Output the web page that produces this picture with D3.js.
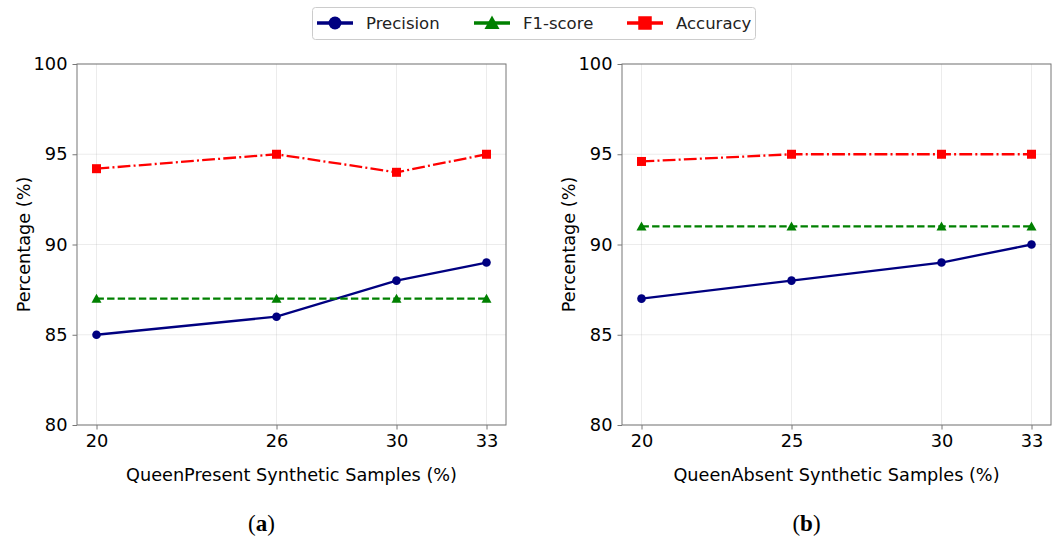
<!DOCTYPE html>
<html>
<head>
<meta charset="utf-8">
<script src="https://cdn.jsdelivr.net/npm/d3@7"></script>
<style>
  body { margin: 0; background: #fff; }
  svg { font-family: "DejaVu Sans", sans-serif; }
</style>
</head>
<body>
<svg id="chart" width="1057" height="536"></svg>
<script>
// data
const seriesNames = ["Precision", "F1-score", "Accuracy"];
const xTicksA = [20, 26, 30, 33];
const precisionA = [85, 86, 88, 89];
const f1A = [87, 87, 87, 87];
const accuracyA = [94.2, 95, 94, 95];

const xTicksB = [20, 25, 30, 33];
const precisionB = [87, 88, 89, 90];
const f1B = [91, 91, 91, 91];
const accuracyB = [94.6, 95, 95, 95];

const yTicks = [80, 85, 90, 95, 100];
const xLabels = ["QueenPresent Synthetic Samples (%)", "QueenAbsent Synthetic Samples (%)"];
const panelTags = ["a", "b"];

const styles = {
  "Precision": { color: "#000080", dash: null, marker: "circle" },
  "F1-score": { color: "#008000", dash: "7.4,3.2", marker: "triangle" },
  "Accuracy": { color: "#ff0000", dash: "12.8,3.2,2,3.2", marker: "square" }
};

const svg = d3.select("#chart");

function drawMarker(g, type, x, y, color, s) {
  if (type === "circle") {
    g.append("circle").attr("cx", x).attr("cy", y).attr("r", 4.3 * s).attr("fill", color);
  } else if (type === "square") {
    g.append("rect").attr("x", x - 4.5 * s).attr("y", y - 4.5 * s)
      .attr("width", 9 * s).attr("height", 9 * s).attr("fill", color);
  } else {
    const h = 5 * s;
    g.append("path")
      .attr("d", `M${x},${y - h} L${x + h},${y + h * 0.8} L${x - h},${y + h * 0.8} Z`)
      .attr("fill", color);
  }
}

function panel(left, xTicks, data, xLabel, tag) {
  const top = 64, bottom = 425, right = left + 429;
  const x = d3.scaleLinear().domain([19.35, 33.65]).range([left, right]);
  const y = d3.scaleLinear().domain([80, 100]).range([bottom, top]);
  const g = svg.append("g");

  // grid
  g.selectAll(".gx").data(xTicks).join("line")
    .attr("x1", d => x(d)).attr("x2", d => x(d)).attr("y1", top).attr("y2", bottom)
    .attr("stroke", "#b0b0b0").attr("stroke-opacity", 0.3).attr("stroke-width", 0.8);
  g.selectAll(".gy").data(yTicks).join("line")
    .attr("x1", left).attr("x2", right).attr("y1", d => y(d)).attr("y2", d => y(d))
    .attr("stroke", "#b0b0b0").attr("stroke-opacity", 0.3).attr("stroke-width", 0.8);

  // axes
  const ax = g.append("g").attr("transform", `translate(0,${bottom})`)
    .call(d3.axisBottom(x).tickValues(xTicks).tickSize(4.5).tickPadding(5).tickFormat(d3.format("d")));
  const ay = g.append("g").attr("transform", `translate(${left},0)`)
    .call(d3.axisLeft(y).tickValues(yTicks).tickSize(4.5).tickPadding(5).tickFormat(d3.format("d")));
  [ax, ay].forEach(a => {
    a.select(".domain").remove();
    a.selectAll("text").attr("font-size", 17.8).attr("fill", "#000")
      .attr("font-family", "DejaVu Sans, sans-serif");
    a.selectAll("line").attr("stroke", "#777").attr("stroke-width", 1);
  });
  g.append("rect").attr("x", left).attr("y", top).attr("width", right - left).attr("height", bottom - top)
    .attr("fill", "none").attr("stroke", "#777").attr("stroke-width", 1);

  // series
  const line = d3.line().x(d => x(d[0])).y(d => y(d[1]));
  seriesNames.forEach((name, i) => {
    const st = styles[name];
    const pts = xTicks.map((v, j) => [v, data[i][j]]);
    g.append("path").datum(pts).attr("d", line)
      .attr("fill", "none").attr("stroke", st.color).attr("stroke-width", 2.3)
      .attr("stroke-dasharray", st.dash);
    pts.forEach(p => drawMarker(g, st.marker, x(p[0]), y(p[1]), st.color, 1));
  });

  // labels
  g.append("text").attr("x", (left + right) / 2).attr("y", 481).attr("text-anchor", "middle")
    .attr("font-size", 17.7).text(xLabel);
  g.append("text").attr("transform", `translate(${left - 47},${(top + bottom) / 2}) rotate(-90)`)
    .attr("text-anchor", "middle").attr("font-size", 17.7).text("Percentage (%)");
  const t = g.append("text").attr("x", (left + right) / 2 - 30).attr("y", 531).attr("text-anchor", "middle")
    .attr("font-family", "Liberation Serif, serif").attr("font-size", 23);
  t.append("tspan").text("(");
  t.append("tspan").attr("font-weight", "bold").text(tag);
  t.append("tspan").text(")");
}

panel(77, xTicksA, [precisionA, f1A, accuracyA], xLabels[0], panelTags[0]);
panel(622, xTicksB, [precisionB, f1B, accuracyB], xLabels[1], panelTags[1]);

// legend
const lg = svg.append("g");
lg.append("rect").attr("x", 312.5).attr("y", 7.5).attr("width", 443).attr("height", 32).attr("rx", 3)
  .attr("fill", "#fff").attr("stroke", "#ccc").attr("stroke-width", 1);
const legendX = [317, 474, 627];
seriesNames.forEach((name, i) => {
  const st = styles[name];
  const x0 = legendX[i];
  lg.append("line").attr("x1", x0).attr("x2", x0 + 36).attr("y1", 23).attr("y2", 23)
    .attr("stroke", st.color).attr("stroke-width", 3.6);
  drawMarker(lg, st.marker, x0 + 18, 23, st.color, 1.5);
  lg.append("text").attr("x", x0 + 49).attr("y", 29).attr("font-size", 16.5).attr("fill", "#222").text(name);
});
</script>
</body>
</html>
